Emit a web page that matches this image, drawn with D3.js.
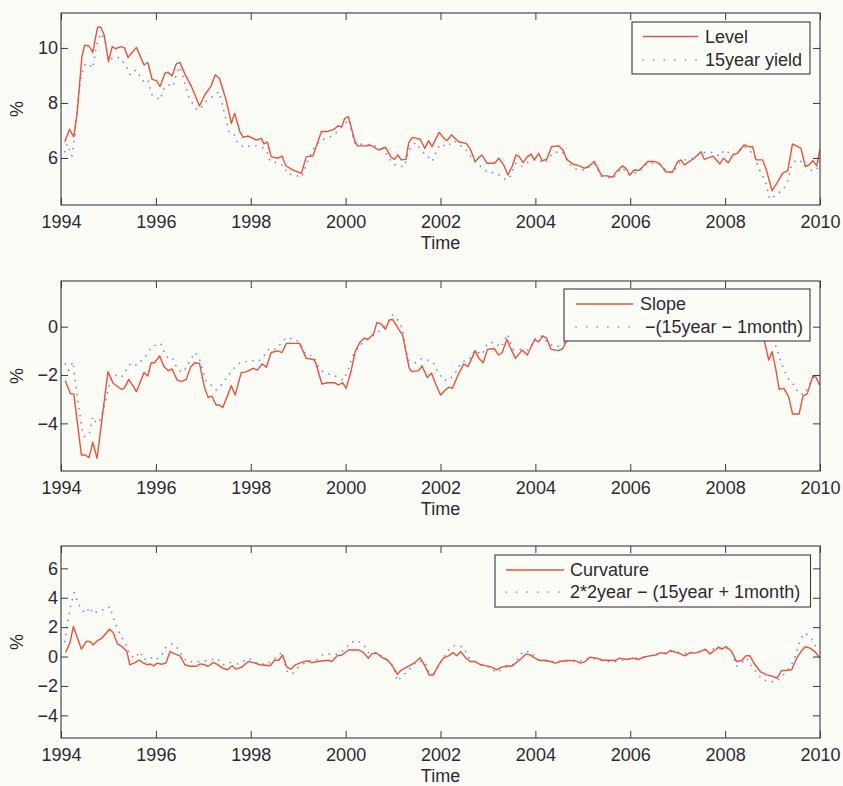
<!DOCTYPE html>
<html>
<head>
<meta charset="utf-8">
<script src="https://cdn.jsdelivr.net/npm/d3@7"></script>
<style>
  body { margin: 0; background: #fcfcf6; }
  text { font-family: "Liberation Sans", Arial, Helvetica, sans-serif; fill: #2b2a33; }
</style>
</head>
<body>
<script>

// x ticks shared by all three panels
var yearTicks = [1994, 1996, 1998, 2000, 2002, 2004, 2006, 2008, 2010];

// panel 1 : level factor vs 15 year yield  [year, %]
var level = [[1994.08,6.59],[1994.18,7.04],[1994.27,6.77],[1994.34,7.62],[1994.44,9.68],[1994.5,10.1],[1994.59,10.07],[1994.67,9.84],[1994.77,10.75],[1994.84,10.75],[1994.91,10.47],[1995.0,9.5],[1995.08,10.05],[1995.15,9.97],[1995.26,10.05],[1995.34,10.0],[1995.41,9.65],[1995.59,10.02],[1995.75,9.38],[1995.83,9.47],[1995.92,8.86],[1996.01,8.81],[1996.09,8.6],[1996.19,9.08],[1996.26,9.12],[1996.34,8.98],[1996.43,9.42],[1996.51,9.47],[1996.62,9.02],[1996.75,8.6],[1996.92,7.89],[1997.03,8.29],[1997.16,8.6],[1997.25,9.02],[1997.34,8.9],[1997.48,8.11],[1997.59,7.26],[1997.66,7.62],[1997.77,6.96],[1997.84,6.75],[1997.94,6.8],[1998.12,6.65],[1998.22,6.71],[1998.28,6.51],[1998.35,6.58],[1998.43,6.05],[1998.57,5.99],[1998.66,6.07],[1998.74,5.72],[1998.89,5.56],[1999.07,5.44],[1999.17,6.05],[1999.31,6.07],[1999.49,6.96],[1999.61,6.96],[1999.75,7.04],[1999.84,7.16],[1999.92,7.14],[1999.98,7.44],[2000.06,7.5],[2000.19,6.63],[2000.25,6.44],[2000.45,6.44],[2000.52,6.47],[2000.7,6.29],[2000.84,6.39],[2000.96,6.02],[2001.03,5.95],[2001.1,6.11],[2001.17,5.93],[2001.27,5.95],[2001.33,6.56],[2001.41,6.75],[2001.57,6.68],[2001.67,6.35],[2001.75,6.63],[2001.82,6.41],[2001.97,6.93],[2002.09,6.68],[2002.14,6.63],[2002.23,6.84],[2002.38,6.59],[2002.54,6.53],[2002.63,6.32],[2002.73,5.87],[2002.81,6.02],[2002.87,6.11],[2002.98,5.81],[2003.14,5.81],[2003.23,5.99],[2003.33,5.75],[2003.42,5.38],[2003.51,5.69],[2003.59,6.11],[2003.66,6.05],[2003.74,5.83],[2003.82,6.02],[2003.91,6.14],[2003.98,5.93],[2004.07,6.17],[2004.14,5.9],[2004.24,5.95],[2004.34,6.41],[2004.49,6.44],[2004.58,6.29],[2004.66,5.95],[2004.79,5.78],[2004.93,5.71],[2005.03,5.62],[2005.12,5.69],[2005.24,5.87],[2005.4,5.35],[2005.52,5.35],[2005.63,5.3],[2005.71,5.5],[2005.83,5.71],[2005.91,5.62],[2005.99,5.38],[2006.08,5.56],[2006.19,5.55],[2006.37,5.87],[2006.51,5.87],[2006.61,5.81],[2006.75,5.5],[2006.89,5.48],[2007.0,5.87],[2007.07,5.93],[2007.14,5.75],[2007.35,5.99],[2007.49,6.23],[2007.56,5.95],[2007.74,6.07],[2007.89,5.78],[2007.96,5.99],[2008.07,5.83],[2008.16,6.11],[2008.26,6.17],[2008.4,6.47],[2008.5,6.41],[2008.58,6.41],[2008.65,5.93],[2008.79,5.93],[2008.86,5.62],[2008.99,4.81],[2009.11,5.14],[2009.21,5.44],[2009.32,5.54],[2009.42,6.51],[2009.6,6.35],[2009.69,5.69],[2009.77,5.75],[2009.85,5.9],[2009.93,5.71],[2010.0,6.32]];

var yield15 = [[1994.08,6.23],[1994.13,6.51],[1994.23,6.07],[1994.3,6.9],[1994.34,7.87],[1994.39,8.6],[1994.44,9.08],[1994.5,9.38],[1994.58,9.44],[1994.67,9.26],[1994.75,10.1],[1994.84,10.53],[1994.93,10.29],[1995.0,9.56],[1995.16,9.68],[1995.26,9.62],[1995.38,9.32],[1995.46,9.02],[1995.58,9.2],[1995.65,9.02],[1995.74,8.78],[1995.83,8.86],[1995.92,8.29],[1996.0,8.23],[1996.09,8.11],[1996.19,8.6],[1996.29,8.66],[1996.36,8.6],[1996.43,9.02],[1996.5,9.32],[1996.6,8.81],[1996.7,8.17],[1996.87,7.75],[1996.96,7.84],[1997.07,8.08],[1997.21,8.25],[1997.33,8.41],[1997.43,7.75],[1997.54,6.96],[1997.64,6.9],[1997.71,6.59],[1997.85,6.39],[1997.99,6.44],[1998.13,6.44],[1998.24,6.39],[1998.34,6.23],[1998.41,5.87],[1998.52,5.84],[1998.7,5.71],[1998.77,5.42],[1998.9,5.39],[1999.07,5.3],[1999.2,5.87],[1999.36,6.47],[1999.53,6.68],[1999.68,6.77],[1999.78,6.89],[1999.9,7.08],[2000.06,7.41],[2000.19,6.53],[2000.34,6.5],[2000.52,6.47],[2000.7,6.41],[2000.87,6.14],[2000.98,5.81],[2001.1,5.71],[2001.24,5.69],[2001.33,6.29],[2001.47,6.56],[2001.64,6.2],[2001.71,6.11],[2001.82,5.87],[2001.99,6.5],[2002.14,6.41],[2002.28,6.63],[2002.54,6.29],[2002.7,5.9],[2002.98,5.5],[2003.19,5.44],[2003.38,5.2],[2003.47,5.32],[2003.59,5.81],[2003.72,5.69],[2003.86,5.87],[2004.03,5.95],[2004.2,5.81],[2004.38,6.2],[2004.56,6.23],[2004.76,5.69],[2004.9,5.55],[2005.03,5.56],[2005.24,5.8],[2005.4,5.32],[2005.63,5.26],[2005.83,5.65],[2005.99,5.36],[2006.19,5.52],[2006.37,5.84],[2006.61,5.78],[2006.75,5.56],[2006.89,5.45],[2007.07,5.9],[2007.35,6.0],[2007.49,6.2],[2007.74,6.2],[2007.89,6.07],[2007.98,6.29],[2008.16,6.1],[2008.4,6.42],[2008.62,6.11],[2008.71,5.62],[2008.85,5.14],[2008.94,4.5],[2009.07,4.65],[2009.23,4.86],[2009.33,5.2],[2009.39,5.71],[2009.5,5.93],[2009.65,5.84],[2009.78,5.56],[2009.93,5.56],[2010.0,5.9]];

// panel 2 : slope factor vs -(15year - 1month)
var slope = [[1994.09,-2.23],[1994.2,-2.78],[1994.27,-2.78],[1994.43,-5.31],[1994.51,-5.31],[1994.59,-5.42],[1994.67,-4.78],[1994.76,-5.45],[1994.99,-1.86],[1995.1,-2.34],[1995.27,-2.59],[1995.33,-2.55],[1995.43,-2.18],[1995.59,-2.69],[1995.75,-1.9],[1995.83,-2.04],[1995.9,-1.49],[1995.97,-1.49],[1996.08,-1.21],[1996.17,-1.65],[1996.26,-1.82],[1996.34,-1.75],[1996.45,-2.21],[1996.54,-2.27],[1996.64,-2.18],[1996.73,-1.68],[1996.82,-1.49],[1996.92,-1.52],[1997.02,-2.48],[1997.1,-2.92],[1997.18,-2.87],[1997.27,-3.24],[1997.34,-3.24],[1997.41,-3.34],[1997.59,-2.44],[1997.67,-2.83],[1997.8,-1.9],[1997.9,-1.87],[1998.05,-1.72],[1998.14,-1.8],[1998.24,-1.54],[1998.33,-1.68],[1998.43,-1.07],[1998.57,-1.0],[1998.66,-1.07],[1998.75,-0.69],[1999.03,-0.69],[1999.17,-1.31],[1999.33,-1.36],[1999.37,-1.49],[1999.5,-2.37],[1999.61,-2.32],[1999.77,-2.32],[1999.85,-2.41],[1999.94,-2.32],[2000.01,-2.55],[2000.12,-1.79],[2000.2,-1.03],[2000.31,-0.62],[2000.39,-0.48],[2000.47,-0.52],[2000.59,-0.3],[2000.66,0.18],[2000.75,0.11],[2000.84,-0.11],[2000.92,0.28],[2000.99,0.3],[2001.13,-0.14],[2001.2,-0.34],[2001.27,-1.03],[2001.34,-1.72],[2001.4,-1.86],[2001.54,-1.82],[2001.61,-1.62],[2001.72,-2.1],[2001.81,-1.93],[2001.9,-2.37],[2002.0,-2.83],[2002.1,-2.62],[2002.18,-2.5],[2002.25,-2.55],[2002.37,-2.0],[2002.49,-1.54],[2002.58,-1.65],[2002.66,-1.31],[2002.73,-0.99],[2002.81,-1.31],[2002.9,-1.49],[2002.99,-0.94],[2003.13,-0.9],[2003.22,-1.17],[2003.3,-1.07],[2003.4,-0.52],[2003.49,-0.94],[2003.58,-1.31],[2003.72,-0.97],[2003.83,-1.17],[2003.98,-0.55],[2004.07,-0.62],[2004.16,-0.38],[2004.24,-0.48],[2004.33,-0.94],[2004.49,-0.99],[2004.58,-0.9],[2004.65,-0.62],[2004.9,-0.2],[2005.2,0.1],[2005.5,0.3],[2005.9,0.5],[2006.3,0.7],[2006.7,0.6],[2007.1,0.5],[2007.5,0.4],[2007.9,0.2],[2008.3,0.1],[2008.6,-0.2],[2008.83,-0.62],[2008.92,-1.38],[2008.99,-1.03],[2009.07,-1.79],[2009.14,-2.59],[2009.24,-2.55],[2009.34,-2.9],[2009.42,-3.61],[2009.56,-3.61],[2009.64,-2.87],[2009.73,-2.78],[2009.85,-2.04],[2009.92,-2.1],[2009.99,-2.41]];

var spread = [[1994.09,-1.54],[1994.16,-1.8],[1994.25,-1.45],[1994.3,-2.21],[1994.34,-2.87],[1994.39,-3.52],[1994.44,-4.2],[1994.5,-4.55],[1994.6,-4.41],[1994.67,-3.72],[1994.75,-4.0],[1994.82,-3.86],[1994.92,-3.24],[1995.05,-2.14],[1995.13,-2.0],[1995.27,-2.1],[1995.37,-1.8],[1995.48,-1.49],[1995.59,-1.59],[1995.69,-1.41],[1995.78,-1.24],[1995.9,-0.85],[1996.0,-0.76],[1996.1,-0.69],[1996.17,-1.03],[1996.26,-1.31],[1996.34,-1.28],[1996.45,-1.72],[1996.55,-1.9],[1996.64,-1.7],[1996.73,-1.35],[1996.83,-1.07],[1996.92,-1.35],[1997.06,-2.27],[1997.16,-2.41],[1997.27,-2.62],[1997.37,-2.44],[1997.48,-2.14],[1997.58,-1.87],[1997.65,-1.72],[1997.8,-1.45],[1997.93,-1.45],[1998.05,-1.41],[1998.15,-1.45],[1998.27,-1.24],[1998.39,-0.9],[1998.53,-0.94],[1998.75,-0.44],[1998.88,-0.51],[1999.02,-0.62],[1999.17,-1.17],[1999.32,-1.21],[1999.46,-1.79],[1999.6,-1.93],[1999.74,-2.0],[1999.85,-2.1],[1999.95,-2.21],[2000.04,-1.86],[2000.16,-1.17],[2000.3,-0.76],[2000.47,-0.52],[2000.58,-0.38],[2000.84,0.03],[2000.99,0.48],[2001.1,0.28],[2001.2,-0.07],[2001.25,-0.69],[2001.32,-1.38],[2001.47,-1.49],[2001.61,-1.31],[2001.68,-1.35],[2001.84,-1.45],[2001.92,-1.79],[2002.06,-2.21],[2002.18,-2.21],[2002.31,-1.93],[2002.45,-1.45],[2002.6,-1.38],[2002.73,-0.97],[2002.87,-1.17],[2003.0,-0.66],[2003.14,-0.66],[2003.28,-0.86],[2003.41,-0.3],[2003.53,-0.94],[2003.7,-0.94],[2003.86,-0.97],[2004.0,-0.48],[2004.14,-0.38],[2004.28,-0.72],[2004.46,-0.83],[2004.6,-0.69],[2005.0,-0.1],[2005.5,0.2],[2006.0,0.4],[2006.5,0.5],[2007.0,0.4],[2007.5,0.3],[2008.0,0.3],[2008.5,0.1],[2008.9,-0.3],[2009.05,-0.69],[2009.14,-1.24],[2009.24,-1.79],[2009.34,-2.17],[2009.45,-2.41],[2009.56,-2.78],[2009.68,-2.78],[2009.77,-2.41],[2009.86,-2.1],[2009.96,-2.04]];

// panel 3 : curvature factor vs 2*2year - (15year + 1month)
var curvature = [[1994.1,0.27],[1994.19,0.95],[1994.26,2.04],[1994.33,1.41],[1994.43,0.5],[1994.53,1.02],[1994.61,1.02],[1994.68,0.8],[1994.77,1.09],[1994.86,1.25],[1994.95,1.59],[1995.02,1.86],[1995.1,1.63],[1995.19,0.86],[1995.3,0.64],[1995.39,0.34],[1995.45,-0.56],[1995.56,-0.41],[1995.65,-0.25],[1995.72,-0.41],[1995.82,-0.56],[1995.88,-0.5],[1995.95,-0.63],[1996.03,-0.45],[1996.12,-0.52],[1996.21,-0.45],[1996.3,0.34],[1996.4,0.18],[1996.51,0.05],[1996.61,-0.56],[1996.72,-0.66],[1996.86,-0.66],[1996.93,-0.5],[1997.03,-0.56],[1997.1,-0.66],[1997.21,-0.41],[1997.28,-0.5],[1997.41,-0.79],[1997.51,-0.9],[1997.61,-0.63],[1997.69,-0.86],[1997.81,-0.72],[1997.95,-0.34],[1998.09,-0.45],[1998.2,-0.56],[1998.41,-0.63],[1998.5,-0.25],[1998.59,-0.25],[1998.67,0.11],[1998.76,-0.72],[1998.85,-0.86],[1998.94,-0.56],[1999.05,-0.41],[1999.19,-0.29],[1999.29,-0.41],[1999.4,-0.34],[1999.54,-0.29],[1999.64,-0.25],[1999.71,-0.34],[1999.82,0.05],[1999.92,0.11],[2000.06,0.45],[2000.27,0.45],[2000.38,0.27],[2000.48,-0.11],[2000.55,0.18],[2000.66,0.23],[2000.76,-0.05],[2000.87,-0.2],[2000.97,-0.56],[2001.09,-1.2],[2001.18,-0.9],[2001.32,-0.66],[2001.46,-0.41],[2001.57,-0.08],[2001.67,-0.63],[2001.76,-1.25],[2001.85,-1.25],[2001.96,-0.56],[2002.06,-0.11],[2002.17,0.05],[2002.27,0.27],[2002.34,0.05],[2002.43,0.34],[2002.52,-0.05],[2002.62,-0.34],[2002.73,-0.34],[2002.85,-0.56],[2002.97,-0.63],[2003.08,-0.72],[2003.18,-0.9],[2003.29,-0.72],[2003.39,-0.63],[2003.5,-0.66],[2003.6,-0.41],[2003.71,-0.11],[2003.8,0.18],[2003.89,0.11],[2003.99,-0.11],[2004.1,-0.27],[2004.2,-0.25],[2004.32,-0.34],[2004.42,-0.45],[2004.52,-0.34],[2004.66,-0.27],[2004.83,-0.27],[2004.95,-0.45],[2005.05,-0.34],[2005.15,-0.05],[2005.29,-0.11],[2005.42,-0.25],[2005.56,-0.25],[2005.68,-0.27],[2005.78,-0.11],[2005.92,-0.2],[2006.06,-0.11],[2006.17,-0.2],[2006.27,-0.05],[2006.41,0.05],[2006.54,0.11],[2006.64,0.27],[2006.75,0.18],[2006.85,0.41],[2006.98,0.27],[2007.06,0.18],[2007.15,0.05],[2007.26,0.27],[2007.37,0.23],[2007.47,0.34],[2007.58,0.5],[2007.68,0.18],[2007.79,0.45],[2007.86,0.64],[2007.93,0.5],[2008.02,0.68],[2008.14,0.34],[2008.24,-0.34],[2008.35,-0.27],[2008.44,0.05],[2008.52,0.05],[2008.63,-0.56],[2008.74,-1.02],[2008.88,-1.25],[2008.98,-1.32],[2009.09,-1.48],[2009.19,-0.95],[2009.3,-0.95],[2009.4,-0.9],[2009.51,-0.11],[2009.6,0.34],[2009.69,0.68],[2009.79,0.57],[2009.89,0.34],[2010.0,-0.11]];

var butterfly = [[1994.08,1.02],[1994.16,2.68],[1994.21,3.59],[1994.28,4.35],[1994.35,3.75],[1994.43,3.18],[1994.53,2.95],[1994.6,3.36],[1994.68,2.91],[1994.77,3.07],[1994.86,3.18],[1994.95,3.18],[1995.03,3.4],[1995.12,2.5],[1995.2,1.82],[1995.28,1.32],[1995.37,0.8],[1995.45,0.11],[1995.56,-0.11],[1995.66,0.34],[1995.75,-0.2],[1995.88,-0.02],[1995.98,-0.25],[1996.12,0.05],[1996.22,0.68],[1996.35,0.86],[1996.44,0.64],[1996.54,0.18],[1996.65,-0.34],[1996.93,-0.34],[1997.14,-0.25],[1997.28,-0.11],[1997.42,-0.56],[1997.56,-0.41],[1997.74,-0.5],[1997.95,-0.11],[1998.1,-0.4],[1998.33,-0.56],[1998.5,-0.15],[1998.65,0.27],[1998.77,-1.02],[1998.88,-1.18],[1999.0,-0.72],[1999.2,-0.3],[1999.4,-0.2],[1999.54,0.18],[1999.67,0.18],[1999.8,0.15],[1999.95,0.41],[2000.1,0.95],[2000.25,1.09],[2000.38,0.8],[2000.5,0.2],[2000.66,0.27],[2000.87,-0.25],[2001.01,-0.66],[2001.09,-1.68],[2001.18,-1.39],[2001.35,-0.86],[2001.5,-0.3],[2001.67,-0.34],[2001.76,-1.14],[2001.88,-1.14],[2002.02,-0.27],[2002.17,0.45],[2002.27,0.73],[2002.38,0.73],[2002.48,0.64],[2002.59,-0.05],[2002.8,-0.5],[2003.0,-0.7],[2003.18,-1.09],[2003.39,-0.72],[2003.55,-0.5],[2003.74,0.34],[2003.89,0.34],[2004.05,-0.2],[2004.3,-0.35],[2004.6,-0.3],[2004.9,-0.35],[2005.15,-0.1],[2005.5,-0.34],[2005.71,-0.34],[2006.0,-0.15],[2006.3,-0.05],[2006.6,0.2],[2006.9,0.35],[2007.2,0.2],[2007.5,0.35],[2007.83,0.57],[2008.02,0.6],[2008.14,0.3],[2008.24,-0.66],[2008.35,-0.45],[2008.45,-0.1],[2008.56,-0.66],[2008.67,-1.09],[2008.77,-1.54],[2008.92,-1.7],[2009.09,-1.7],[2009.26,-1.14],[2009.4,-0.56],[2009.49,0.11],[2009.58,1.13],[2009.68,1.59],[2009.77,1.41],[2009.86,1.02],[2009.96,0.34]];

var levelTicks = [6, 8, 10];
var slopeTicks = [-4, -2, 0];
var curvatureTicks = [-4, -2, 0, 2, 4, 6];

var levelNames = ["Level", "15year yield"];
var slopeNames = ["Slope", " \u2212(15year \u2212 1month)"];
var curvatureNames = ["Curvature", "2*2year \u2212 (15year + 1month)"];

var width = 843, height = 786;
var left = 61, right = 820;
var tickLen = 7;
var axisColor = "#3a3746";
var redColor = "#e5533a";
var blueColor = "#8282e4";

var svg = d3.select("body").append("svg")
  .attr("width", width)
  .attr("height", height);

var x = d3.scaleLinear().domain([1994, 2010]).range([left, right]);

var panels = [
  {top: 13, bottom: 205, ylim: [4.29, 11.27], ticks: levelTicks, solid: level, dotted: yield15, names: levelNames,
   legend: {x: 632, y: 22, w: 178, h: 52, x1: 643, x2: 698, tx: 705, rows: [36.5, 60]}},
  {top: 281, bottom: 471, ylim: [-5.97, 1.89], ticks: slopeTicks, solid: slope, dotted: spread, names: slopeNames,
   legend: {x: 564, y: 289, w: 246, h: 52, x1: 576, x2: 633, tx: 640, rows: [304, 327]}},
  {top: 546, bottom: 738, ylim: [-5.54, 7.52], ticks: curvatureTicks, solid: curvature, dotted: butterfly, names: curvatureNames,
   legend: {x: 495, y: 555, w: 315.5, h: 52, x1: 506, x2: 564, tx: 570, rows: [570, 592]}}
];

panels.forEach(function(p, i) {

  var y = d3.scaleLinear().domain(p.ylim).range([p.bottom, p.top]);
  var g = svg.append("g");

  g.append("clipPath").attr("id", "clip" + i)
    .append("rect")
    .attr("x", left).attr("y", p.top)
    .attr("width", right - left).attr("height", p.bottom - p.top);

  var line = d3.line()
    .x(function(d) { return x(d[0]); })
    .y(function(d) { return y(d[1]); });

  g.append("path")
    .datum(p.dotted)
    .attr("clip-path", "url(#clip" + i + ")")
    .attr("d", line)
    .attr("fill", "none")
    .attr("stroke", blueColor)
    .attr("stroke-width", 1.7)
    .attr("stroke-linecap", "round")
    .attr("stroke-dasharray", "0.1,7");

  g.append("path")
    .datum(p.solid)
    .attr("clip-path", "url(#clip" + i + ")")
    .attr("d", line)
    .attr("fill", "none")
    .attr("stroke", redColor)
    .attr("stroke-width", 1.4)
    .attr("stroke-linejoin", "round");

  // axes, ticks pointing inward on all four sides
  var bottomAxis = g.append("g")
    .attr("transform", "translate(0," + p.bottom + ")")
    .call(d3.axisBottom(x).tickValues(yearTicks).tickFormat(d3.format("d"))
      .tickSizeInner(-tickLen).tickSizeOuter(0).tickPadding(10));
  var leftAxis = g.append("g")
    .attr("transform", "translate(" + left + ",0)")
    .call(d3.axisLeft(y).tickValues(p.ticks).tickFormat(d3.format("d"))
      .tickSizeInner(-tickLen).tickSizeOuter(0).tickPadding(3));
  var topAxis = g.append("g")
    .attr("transform", "translate(0," + p.top + ")")
    .call(d3.axisTop(x).tickValues(yearTicks).tickFormat("").tickSizeInner(-tickLen).tickSizeOuter(0));
  var rightAxis = g.append("g")
    .attr("transform", "translate(" + right + ",0)")
    .call(d3.axisRight(y).tickValues(p.ticks).tickFormat("").tickSizeInner(-tickLen).tickSizeOuter(0));

  [bottomAxis, leftAxis, topAxis, rightAxis].forEach(function(a) {
    a.select(".domain").remove();
    a.selectAll("line").attr("stroke", axisColor);
    a.selectAll("text").attr("font-size", 18).attr("fill", "#2b2a33")
      .attr("font-family", '"Liberation Sans", Arial, sans-serif');
  });

  g.append("rect")
    .attr("x", left).attr("y", p.top)
    .attr("width", right - left).attr("height", p.bottom - p.top)
    .attr("fill", "none")
    .attr("stroke", axisColor)
    .attr("stroke-width", 1.1);

  g.append("text")
    .attr("x", (left + right) / 2)
    .attr("y", p.bottom + 44)
    .attr("text-anchor", "middle")
    .attr("font-size", 18)
    .text("Time");

  g.append("text")
    .attr("transform", "translate(23," + ((p.top + p.bottom) / 2) + ") rotate(-90)")
    .attr("text-anchor", "middle")
    .attr("font-size", 18)
    .text("%");

  // legend
  var L = p.legend;
  var lg = g.append("g");
  lg.append("rect")
    .attr("x", L.x).attr("y", L.y)
    .attr("width", L.w).attr("height", L.h)
    .attr("fill", "#fdfdf8")
    .attr("stroke", axisColor)
    .attr("stroke-width", 1.1);

  lg.append("line")
    .attr("x1", L.x1).attr("x2", L.x2)
    .attr("y1", L.rows[0]).attr("y2", L.rows[0])
    .attr("stroke", redColor).attr("stroke-width", 1.4);
  lg.append("line")
    .attr("x1", L.x1).attr("x2", L.x2)
    .attr("y1", L.rows[1]).attr("y2", L.rows[1])
    .attr("stroke", blueColor).attr("stroke-width", 1.7)
    .attr("stroke-linecap", "round")
    .attr("stroke-dasharray", "0.1,10.5");

  lg.selectAll("text.entry")
    .data(p.names)
    .enter().append("text")
    .attr("class", "entry")
    .attr("x", L.tx)
    .attr("y", function(d, k) { return L.rows[k]; })
    .attr("dy", "0.35em")
    .attr("font-size", 18)
    .style("white-space", "pre")
    .text(function(d) { return d; });
});

</script>
</body>
</html>
